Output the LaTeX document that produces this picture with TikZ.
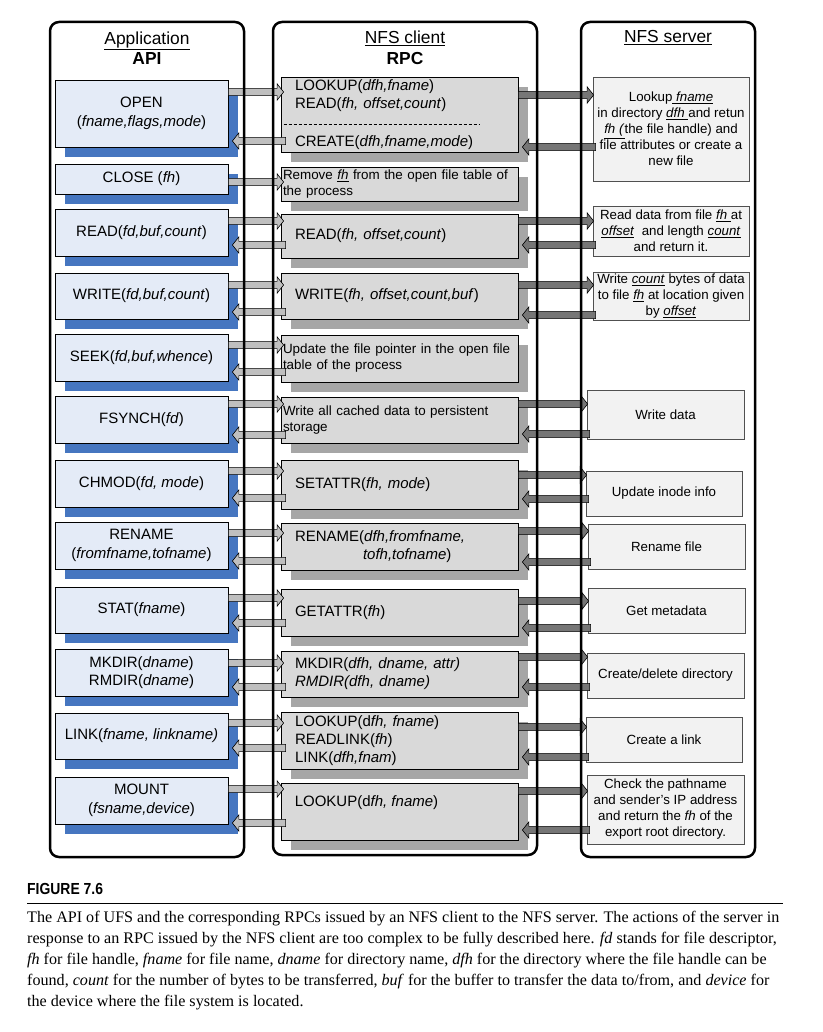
\documentclass[tikz,border=0pt]{standalone}
\usepackage{fontspec}
\setmainfont{Liberation Sans}
\newfontfamily\capfont{Liberation Serif}
\newfontfamily\figfont[FakeStretch=0.87]{Liberation Sans}
\usetikzlibrary{calc,shadows}

\definecolor{apifill}{RGB}{228,235,247}
\definecolor{apishadow}{RGB}{70,118,192}
\definecolor{rpcfill}{RGB}{217,217,217}
\definecolor{rpcshadow}{RGB}{166,166,166}
\definecolor{srvfill}{RGB}{242,242,242}
\definecolor{srvline}{RGB}{80,80,80}
\definecolor{lightarr}{RGB}{191,191,191}
\definecolor{darkarr}{RGB}{118,118,118}

\tikzset{
  apibox/.style={draw, line width=0.8pt, fill=apifill, minimum width=173pt,
    inner sep=0pt, align=center, font=\fontsize{15}{18.5}\selectfont,
    drop shadow={shadow xshift=10pt, shadow yshift=-10pt, fill=apishadow, opacity=1}},
  rpcbox/.style={draw, line width=0.8pt, fill=rpcfill, minimum width=237pt,
    text width=209pt, inner xsep=14pt, inner ysep=0pt, align=left,
    font=\fontsize{15}{18}\selectfont,
    drop shadow={shadow xshift=10pt, shadow yshift=-10pt, fill=rpcshadow, opacity=1}},
  rpcsmall/.style={rpcbox, text width=233pt, inner xsep=2pt,
    font=\fontsize{13.4}{16}\selectfont},
  rpctext/.style={inner sep=0pt, align=left, font=\fontsize{15}{18}\selectfont},
  srvbox/.style={draw=srvline, line width=0.8pt, fill=srvfill, inner sep=0pt,
    align=center, font=\fontsize{13.3}{16}\selectfont},
  colhead/.style={inner sep=0pt, align=center, font=\fontsize{17.4}{20.5}\selectfont},
  colframe/.style={line width=2.5pt, rounded corners=9pt},
  fat/.style={to path={let \p1=(\tikztostart), \p2=(\tikztotarget),
    \p3=($(\tikztotarget)!6.5pt!(\tikztostart)$) in
    (\x1,{\y1+3.6pt}) -- (\x3,{\y1+3.6pt}) -- (\x3,{\y1+8.2pt}) -- (\x2,\y1)
    -- (\x3,{\y1-8.2pt}) -- (\x3,{\y1-3.6pt}) -- (\x1,{\y1-3.6pt}) -- cycle}},
  apiarr/.style={fat, draw=black, line width=0.6pt, fill=lightarr},
  srvarr/.style={fat, draw=black, line width=0.6pt, fill=darkarr},
}

\begin{document}
\begin{tikzpicture}[x=1pt,y=-1pt]
\useasboundingbox (0,0) rectangle (822,1032);

% application side
\node[apibox, minimum height=67pt] (api1) at (141.5,113.5) {OPEN\\(\textit{fname,flags,mode})};
\node[apibox, minimum height=30pt] (api2) at (141.5,179) {CLOSE (\textit{fh})};
\node[apibox, minimum height=47pt] (api3) at (141.5,232.5) {READ(\textit{fd,buf,count})};
\node[apibox, minimum height=46pt] (api4) at (141.5,296) {WRITE(\textit{fd,buf,count})};
\node[apibox, minimum height=47pt] (api5) at (141.5,357.5) {SEEK(\textit{fd,buf,whence})};
\node[apibox, minimum height=47pt] (api6) at (141.5,419.5) {FSYNCH(\textit{fd})};
\node[apibox, minimum height=47pt] (api7) at (141.5,483.5) {CHMOD(\textit{fd, mode})};
\node[apibox, minimum height=47pt] (api8) at (141.5,545.5) {RENAME\\(\textit{fromfname,tofname})};
\node[apibox, minimum height=46pt] (api9) at (141.5,610) {STAT(\textit{fname})};
\node[apibox, minimum height=47pt] (api10) at (141.5,672.5) {MKDIR(\textit{dname})\\RMDIR(\textit{dname})};
\node[apibox, minimum height=46pt] (api11) at (141.5,736) {LINK(\textit{fname, linkname)}};
\node[apibox, minimum height=47pt] (api12) at (141.5,800.5) {MOUNT\\(\textit{fsname,device})};

% client side
\node[rpcbox, minimum height=75pt] (rpc1) at (399.5,114.5)
  {LOOKUP(\textit{dfh,fname})\\READ(\textit{fh, offset,count})\\[20.5pt]CREATE(\textit{dfh,fname,mode})};
\draw[line width=0.7pt, dash pattern=on 3.5pt off 1.5pt] ($(rpc1.west)+(3,9.5)$) -- ++(196,0);
\node[rpcsmall, minimum height=34pt] (rpc2) at (399.5,184)
  {Remove \underline{\textit{fh}} from the open file table of\\the process};
\node[rpcbox, minimum height=44pt] (rpc3) at (399.5,236) {READ(\textit{fh, offset,count})};
\node[rpcbox, minimum height=46pt] (rpc4) at (399.5,296) {WRITE(\textit{fh, offset,count,buf})};
\node[rpcsmall, minimum height=47pt] (rpc5) at (399.5,358.5)
  {Update the file pointer in the open file\\table of the process};
\node[rpcsmall, minimum height=46pt] (rpc6) at (399.5,420)
  {Write all cached data to persistent\\storage};
\node[rpcbox, minimum height=49pt] (rpc7) at (399.5,484.5) {SETATTR(\textit{fh, mode})};
\node[rpcbox, minimum height=47pt] (rpc8) at (399.5,546.5)
  {RENAME(\textit{dfh,fromfname,}\\\hspace*{68pt}\textit{tofh,tofname})};
\node[rpcbox, minimum height=47pt] (rpc9) at (399.5,612.5) {GETATTR(\textit{fh})};
\node[rpcbox, minimum height=46pt] (rpc10) at (399.5,674)
  {MKDIR(\textit{dfh, dname, attr)}\\\textit{RMDIR(dfh, dname)}};
\node[rpcbox, minimum height=57pt] (rpc11) at (399.5,740.5)
  {LOOKUP(d\textit{fh, fname})\\READLINK(\textit{fh})\\LINK(\textit{dfh,fnam})};
\node[rpcbox, minimum height=57pt] (rpc12) at (399.5,811.5) {};
\node[rpctext, anchor=west] (rpc12t) at ($(rpc12.west)+(14,-8.5)$) {LOOKUP(d\textit{fh, fname})};

% server side
\node[srvbox, minimum width=156pt, minimum height=104pt] (srv1) at (671,129)
  {Lookup\underline{ \textit{fname}}\\in directory \underline{\textit{dfh }}and retun\\\underline{\textit{fh (}}the file handle) and\\file attributes or create a\\new file};
\node[srvbox, minimum width=156pt, minimum height=50pt] (srv3) at (671,231)
  {Read data from file \underline{\textit{fh }}at\\\underline{\textit{offset}}\ \ and length \underline{\textit{count}}\\and return it.};
\node[srvbox, minimum width=156pt, minimum height=48pt] (srv4) at (671,296)
  {Write \underline{\textit{count}} bytes of data\\to file \underline{\textit{fh}} at location given\\by \underline{\textit{offset}}};
\node[srvbox, minimum width=157pt, minimum height=49pt] (srv6) at (665.5,414.5) {Write data};
\node[srvbox, minimum width=156pt, minimum height=45pt] (srv7) at (664,493.5) {Update inode info};
\node[srvbox, minimum width=157pt, minimum height=45pt] (srv8) at (666.5,546.5) {Rename file};
\node[srvbox, minimum width=157pt, minimum height=45pt] (srv9) at (666.5,610.5) {Get metadata};
\node[srvbox, minimum width=157pt, minimum height=45pt] (srv10) at (665.5,675.5) {Create/delete directory};
\node[srvbox, minimum width=156pt, minimum height=45pt] (srv11) at (664,739.5) {Create a link};
\node[srvbox, minimum width=157pt, minimum height=69pt] (srv12) at (665.5,809.5)
  {Check the pathname\\and sender's IP address\\and return the \textit{fh} of the\\export root directory.};

% calls and replies between application and client
\foreach \i/\y in {1/92,2/182,3/221,4/285,5/345,6/404,7/471,8/533,9/598,10/663,11/723,12/789}
  \draw[apiarr] (api\i.east |- 0,\y) to ($(rpc\i.west |- 0,\y)+(3,0)$);
\foreach \i/\y in {1/141,3/245,4/312,5/372,6/435,7/498,8/561,9/623,10/687,11/748,12/823}
  \draw[apiarr] ($(rpc\i.west |- 0,\y)+(5,0)$) to ($(api\i.east |- 0,\y)+(4,0)$);

% requests and replies between client and server
\foreach \i/\y in {1/95,3/221,4/285,6/404,7/475,8/531,9/601,10/657,11/727,12/791}
  \draw[srvarr] (rpc\i.east |- 0,\y) to ($(srv\i.west |- 0,\y)+(1,0)$);
\foreach \i/\y in {1/147,3/245,4/315,6/434,7/499,8/562,9/628,10/687,11/757,12/830}
  \draw[srvarr] ($(srv\i.west |- 0,\y)+(3,0)$) to ($(rpc\i.east |- 0,\y)+(4,0)$);

% column frames
\draw[colframe] (50,22) rectangle (244,857);
\draw[colframe] (273,22) rectangle (537,855);
\draw[colframe] (581,22) rectangle (755,857);
\node[colhead] (apphead) at (147,48) {\underline{Application}\\\textbf{API}};
\node[colhead] (clihead) at (405,48) {\underline{NFS client}\\\textbf{RPC}};
\node[colhead] (srvhead) at (668,38) {\underline{NFS server}};

% caption
\node[inner sep=0pt, anchor=west, font=\figfont\bfseries\fontsize{16}{18}\selectfont] (figlab) at (27,889) {FIGURE 7.6};
\draw[line width=1pt] (27,903) -- (783,903);
\node[inner sep=0pt, anchor=north west, align=left, font=\capfont\fontsize{16.1}{21}\selectfont] (cap) at (27,911)
  {The API of UFS and the corresponding RPCs issued by an NFS client to the NFS server. The actions of the server in\\
   response to an RPC issued by the NFS client are too complex to be fully described here. \textit{fd} stands for file descriptor,\\
   \textit{fh} for file handle, \textit{fname} for file name, \textit{dname} for directory name, \textit{dfh} for the directory where the file handle can be\\
   found, \textit{count} for the number of bytes to be transferred, \textit{buf} for the buffer to transfer the data to/from, and \textit{device} for\\
   the device where the file system is located.};
\end{tikzpicture}
\end{document}
